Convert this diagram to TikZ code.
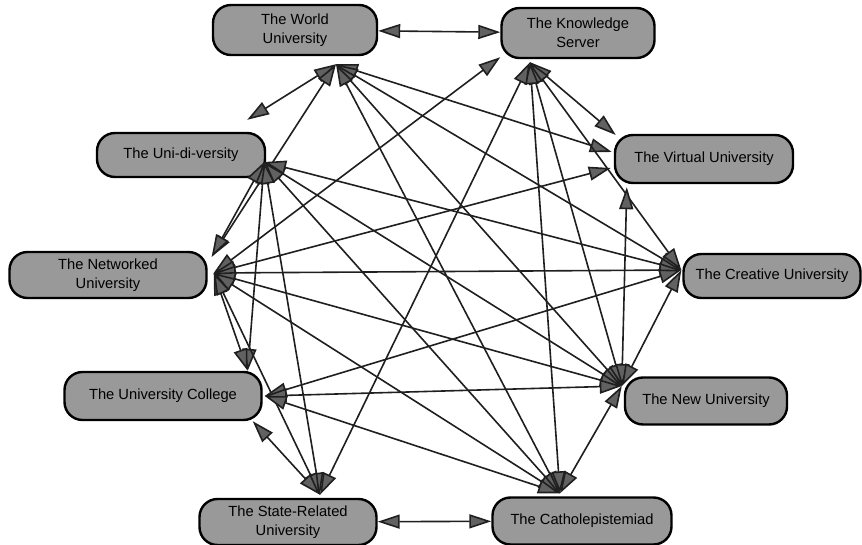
\documentclass[tikz,border=0pt]{standalone}
\usepackage{fontspec}
\setmainfont{Liberation Sans}
\usetikzlibrary{arrows.meta,calc}
\begin{document}
\begin{tikzpicture}[x=1pt,y=-1pt,
  model/.style={draw=black, line width=2.4pt, fill=black!40, rounded corners=18pt,
    align=center, inner sep=0pt, font=\fontsize{14.7}{19}\selectfont},
  link/.style={draw=black!88, line width=1.6pt,
    {Triangle[length=22pt,width=14pt,fill=black!62]}-{Triangle[length=22pt,width=14pt,fill=black!62]}},
]
\useasboundingbox (0,0) rectangle (862,545);

% the ten models
\node[model, minimum width=164pt, minimum height=50pt] (W)  at (295,30)  {The World\\University};
\node[model, minimum width=153pt, minimum height=50pt] (K)  at (578,33)  {The Knowledge\\Server};
\node[model, minimum width=168pt, minimum height=44pt] (U)  at (181,155) {The Uni-di-versity};
\node[model, minimum width=178pt, minimum height=48pt] (V)  at (704,159) {The Virtual University};
\node[model, minimum width=197pt, minimum height=46pt] (N)  at (108,275) {The Networked\\University};
\node[model, minimum width=177pt, minimum height=44pt] (C)  at (772,276) {The Creative University};
\node[model, minimum width=197pt, minimum height=48pt] (UC) at (163,396) {The University College};
\node[model, minimum width=162pt, minimum height=47pt] (NU) at (706,401) {The New University};
\node[model, minimum width=177pt, minimum height=46pt] (S)  at (288,522) {The State-Related\\University};
\node[model, minimum width=179pt, minimum height=47pt] (CA) at (582,521) {The Catholepistemiad};

% attachment points where the connectors meet
\coordinate (Wh)  at ($(W.south)+(41,8)$);
\coordinate (Kh)  at ($(K.south)+(-48,3)$);
\coordinate (Kw)  at ($(K.south west)+(0,-2)$);
\coordinate (Uh)  at ($(U.east)+(-2,7)$);
\coordinate (Uf)  at ($(U.north east)+(-19,-12)$);
\coordinate (Vn)  at ($(V.west)+(2,-24)$);
\coordinate (Vh)  at ($(V.west)+(-2,-7)$);
\coordinate (Vl)  at ($(V.west)+(-3,9)$);
\coordinate (Vs)  at ($(V.south west)+(13,3)$);
\coordinate (Nh)  at ($(N.east)+(6,-2)$);
\coordinate (Nt)  at ($(N.north east)+(4,6)$);
\coordinate (Ch)  at ($(C.west)+(-1,-6)$);
\coordinate (UCh) at ($(UC.east)+(2,0)$);
\coordinate (UCt) at ($(UC.north east)+(-15,0)$);
\coordinate (UCb) at ($(UC.south east)+(-10,0)$);
\coordinate (NUh) at ($(NU.west)+(-2,-15)$);
\coordinate (Sh)  at ($(S.north)+(32,-3)$);
\coordinate (CAh) at ($(CA.north)+(-22,-3)$);

% connectors
\draw[link] (W) -- (K);
\draw[link] (S) -- (CA);
\draw[link] (Wh) -- (Uf);
\draw[link] (Wh) -- (Nt);
\draw[link] (Wh) -- (Vh);
\draw[link] (Wh) -- (Ch);
\draw[link] (Wh) -- (NUh);
\draw[link] (Wh) -- (CAh);
\draw[link] (Kw) -- (Nh);
\draw[link] (Kh) -- (Vn);
\draw[link] (Kh) -- (Ch);
\draw[link] (Kh) -- (NUh);
\draw[link] (Kh) -- (CAh);
\draw[link] (Kh) -- (Sh);
\draw[link] (Uh) -- (Nt);
\draw[link] (Uh) -- (UCt);
\draw[link] (Uh) -- (Sh);
\draw[link] (Uh) -- (NUh);
\draw[link] (Uh) -- (CAh);
\draw[link] (Uh) -- (Ch);
\draw[link] (Nh) -- (Vl);
\draw[link] (Nh) -- (Ch);
\draw[link] (Nh) -- (NUh);
\draw[link] (Nh) -- (CAh);
\draw[link] (Nh) -- (UCt);
\draw[link] (Nh) -- (Sh);
\draw[link] (Vs) -- (NUh);
\draw[link] (Ch) -- (UCh);
\draw[link] (Ch) -- (NUh);
\draw[link] (NUh) -- (UCh);
\draw[link] (NUh) -- (CAh);
\draw[link] (UCh) -- (CAh);
\draw[link] (UCb) -- (Sh);
\end{tikzpicture}
\end{document}
